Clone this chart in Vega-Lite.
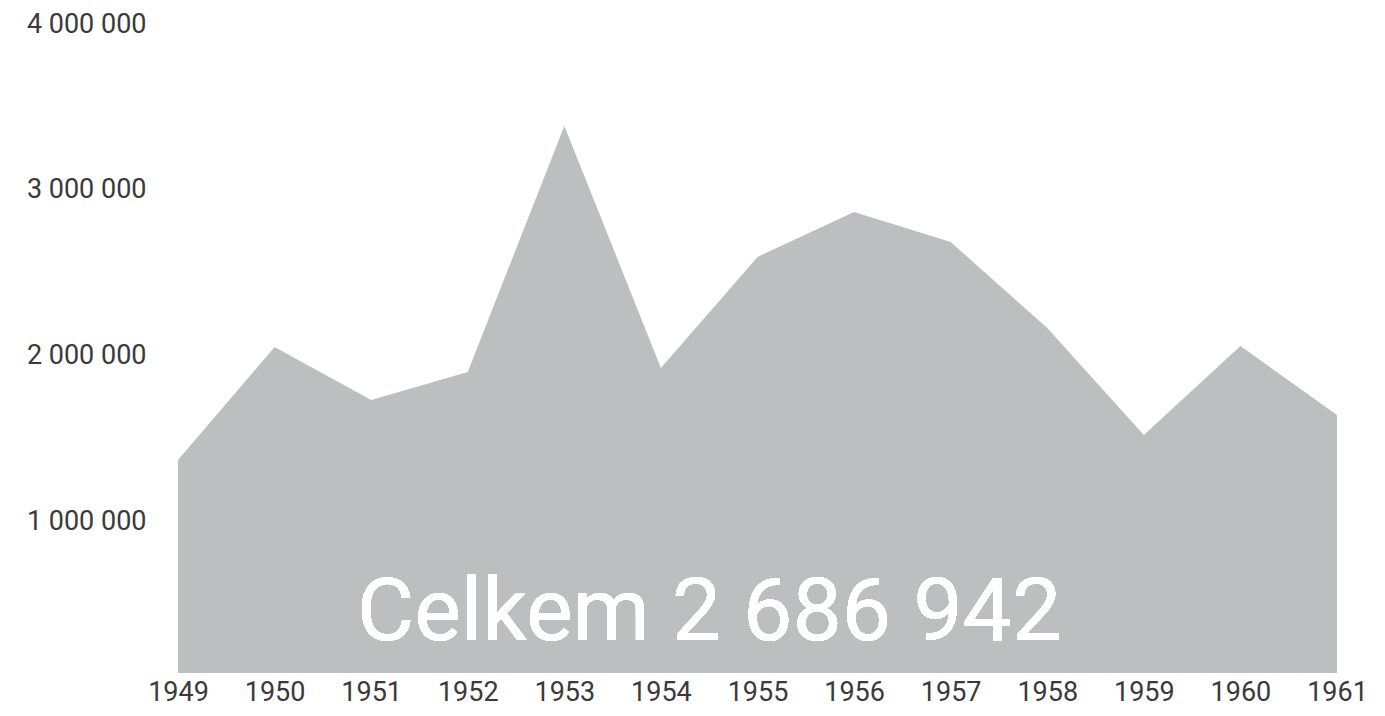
{
  "$schema": "https://vega.github.io/schema/vega-lite/v6.json",
  "width": 1159,
  "height": 649,
  "autosize": "none",
  "padding": {"left": 178, "top": 24, "right": 48, "bottom": 43},
  "background": "white",
  "config": {
    "view": {"stroke": null},
    "locale": {"number": {"decimal": ",", "thousands": " ", "grouping": [3], "currency": ["", " Kč"]}},
    "axis": {
      "domain": false,
      "ticks": false,
      "grid": false,
      "labelFont": "Roboto",
      "labelFontSize": 27,
      "labelColor": "#3a3a3a",
      "labelFlush": false,
      "labelOverlap": false,
      "title": null
    }
  },
  "data": {
    "values": [
      {"year": 1949, "value": 1368000},
      {"year": 1950, "value": 2050000},
      {"year": 1951, "value": 1730000},
      {"year": 1952, "value": 1900000},
      {"year": 1953, "value": 3384000},
      {"year": 1954, "value": 1924000},
      {"year": 1955, "value": 2594000},
      {"year": 1956, "value": 2865000},
      {"year": 1957, "value": 2684000},
      {"year": 1958, "value": 2165000},
      {"year": 1959, "value": 1519000},
      {"year": 1960, "value": 2056000},
      {"year": 1961, "value": 1640000}
    ]
  },
  "layer": [
    {
      "mark": {"type": "area", "color": "#bdbec0", "clip": true},
      "encoding": {
        "x": {
          "field": "year",
          "type": "quantitative",
          "scale": {"domain": [1949, 1961], "nice": false, "zero": false},
          "axis": {
            "format": "d",
            "labelPadding": 6,
            "values": [1949, 1950, 1951, 1952, 1953, 1954, 1955, 1956, 1957, 1958, 1959, 1960, 1961]
          }
        },
        "y": {
          "field": "value",
          "type": "quantitative",
          "scale": {"domain": [82500, 4000000], "nice": false, "zero": false},
          "axis": {
            "format": ",d",
            "labelPadding": 32,
            "values": [1000000, 2000000, 3000000, 4000000]
          }
        }
      }
    },
    {
      "mark": {
        "type": "text",
        "text": "Celkem 2 686 942",
        "font": "Roboto",
        "fontSize": 88,
        "fontWeight": 400,
        "color": "white",
        "align": "center",
        "baseline": "alphabetic"
      },
      "encoding": {
        "x": {"datum": 1954.5, "type": "quantitative"},
        "y": {"datum": 283000, "type": "quantitative"}
      }
    }
  ]
}
